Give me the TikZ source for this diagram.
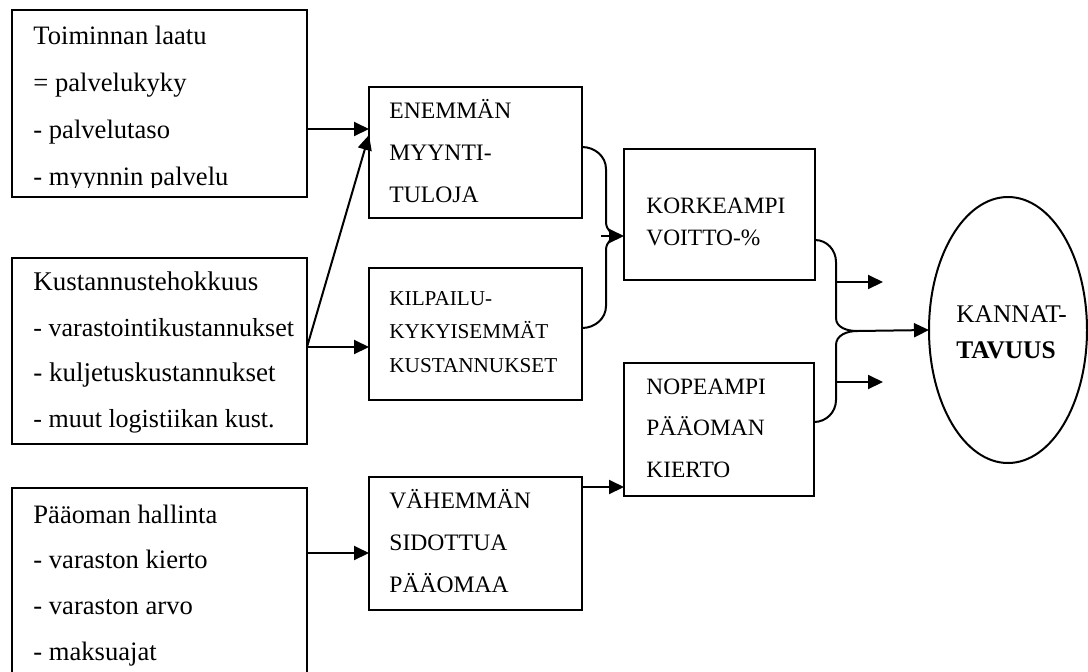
\documentclass[tikz,border=0pt]{standalone}
\usepackage{fontspec}
\setmainfont{Liberation Serif}
\usetikzlibrary{arrows.meta, calc, shapes.geometric}
\tikzstyle{box} = [rectangle, draw, line width=1pt, inner sep=0pt, outer sep=0pt, anchor=north west]
\tikzstyle{txt} = [anchor=base west, align=left, inner sep=0pt]
\tikzstyle{line} = [line width=1pt]
\tikzstyle{arrow} = [line width=1pt, -{Triangle[length=7.5pt, width=7pt]}]
\newcommand{\subfont}{\fontsize{13}{22.7}\selectfont}
\newcommand{\midfont}{\fontsize{11.8}{20.8}\selectfont}

\begin{document}
\begin{tikzpicture}[x=0.5pt, y=-0.5pt]
    \useasboundingbox (0,0) rectangle (1088,671);

    % Left column (text anchored at the last line)
    \node[box, minimum width=147.5pt, minimum height=93.5pt] (laatu) at (12,10) {};
    \begin{scope}
        \clip (12,10) rectangle (307,187);
        \node[txt, font=\fontsize{13.3}{23.35}\selectfont] (laatutxt) at (33,185) {Toiminnan laatu\\= palvelukyky\\- palvelutaso\\- myynnin palvelu};
    \end{scope}
    \node[box, minimum width=147.5pt, minimum height=93pt] (kust) at (12,258) {};
    \node[txt, font=\fontsize{13.5}{22.7}\selectfont] (kusttxt) at (33,427) {Kustannustehokkuus\\{\subfont - varastointikustannukset}\\- kuljetuskustannukset\\{\subfont - muut logistiikan kust.}};
    \node[box, minimum width=147.5pt, minimum height=106pt] (paaoma) at (12,488) {};
    \node[txt, font=\fontsize{13.3}{22.8}\selectfont] (paaomatxt) at (33,660) {Pääoman hallinta\\- varaston kierto\\- varaston arvo\\- maksuajat};

    % Middle column
    \node[box, minimum width=106.5pt, minimum height=65.5pt] (enemman) at (369,87) {};
    \node[txt, font=\midfont] (enemmantxt) at (389,202) {ENEMMÄN\\MYYNTI-\\TULOJA};
    \node[box, minimum width=106.5pt, minimum height=66pt] (kilpailu) at (369,268) {};
    \node[txt, font=\fontsize{10.6}{16.7}\selectfont] (kilpailutxt) at (389,372) {KILPAILU-\\KYKYISEMMÄT\\KUSTANNUKSET};
    \node[box, minimum width=106.5pt, minimum height=66.5pt] (vahemman) at (369,477) {};
    \node[txt, font=\fontsize{11.8}{21}\selectfont] (vahemmantxt) at (389,592) {VÄHEMMÄN\\SIDOTTUA\\PÄÄOMAA};

    % Right column
    \node[box, minimum width=95.5pt, minimum height=65.5pt] (korkeampi) at (624,149) {};
    \node[txt, font=\fontsize{11.7}{16}\selectfont] (korkeampitxt) at (646,245) {KORKEAMPI\\VOITTO-\%};
    \node[box, minimum width=95pt, minimum height=66.5pt] (nopeampi) at (624,363) {};
    \node[txt, font=\fontsize{11.7}{20.75}\selectfont] (nopeampitxt) at (646,477) {NOPEAMPI\\PÄÄOMAN\\KIERTO};

    % Result
    \node[ellipse, draw, line width=1pt, inner sep=0pt, outer sep=0pt, minimum width=79pt, minimum height=133pt] (kannat) at (1008,330) {};
    \node[txt, font=\fontsize{12.7}{18}\selectfont] (kannattxt) at (956,358) {KANNAT-\\\textbf{TAVUUS}};

    % Brace points
    \coordinate (lbrace) at ($(korkeampi.north west)+(0,87)$);
    \coordinate (rbrace) at (857,331);
    \coordinate (rb1) at (836,282);
    \coordinate (ra1) at (883,282);
    \coordinate (rb2) at (836,382);
    \coordinate (ra2) at (883,382);

    % Arrows
    \draw[arrow] ($(laatu.north east)+(0,119)$) -- ($(enemman.north west)+(0,42)$);
    \draw[arrow] ($(kust.north east)+(0,89)$) -- ($(enemman.north west)+(0,48)$);
    \draw[arrow] ($(kust.north east)+(0,89)$) -- ($(kilpailu.north west)+(0,79)$);
    \draw[arrow] ($(paaoma.north east)+(0,65)$) -- ($(vahemman.north west)+(0,76)$);
    \draw[arrow] ($(vahemman.north east)+(0,10)$) -- ($(nopeampi.north west)+(0,124)$);

    % Left brace
    \draw[line] ($(enemman.north east)+(0,60)$) to[out=0, in=90] ++(24,22) -- ++(0,53) to[out=-90, in=180] ($(lbrace)+(-4,0)$);
    \draw[line] ($(kilpailu.north east)+(0,60)$) to[out=0, in=-90] ++(24,-22) -- ++(0,-56) to[out=90, in=180] ($(lbrace)+(-4,0)$);
    \draw[arrow] ($(lbrace)+(-23,0)$) -- (lbrace);

    % Right brace
    \draw[line] ($(korkeampi.north east)+(0,91)$) to[out=0, in=90] ++(21,22) -- ++(0,56) to[out=-90, in=180] (rbrace);
    \draw[line] ($(nopeampi.north east)+(0,59)$) to[out=0, in=-90] ++(22,-22) -- ++(0,-55) to[out=90, in=180] (rbrace);
    \draw[arrow] (rbrace) -- (kannat.west);
    \draw[arrow] (rb1) -- (ra1);
    \draw[arrow] (rb2) -- (ra2);
\end{tikzpicture}
\end{document}
